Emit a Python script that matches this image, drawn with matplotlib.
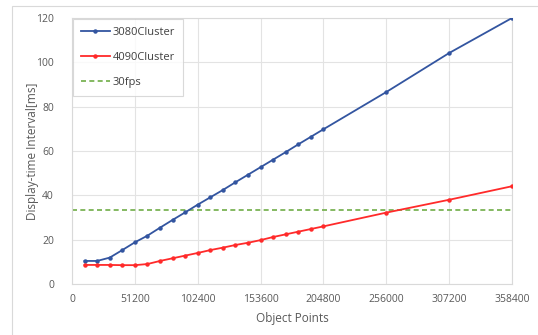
import numpy as np
import matplotlib
matplotlib.use("Agg")
import matplotlib.pyplot as plt
from matplotlib.patches import Rectangle

plt.rcParams['font.family'] = ['Open Sans', 'DejaVu Sans']

points = [10240 * i for i in range(1, 21)] + [256000, 307200, 358400]
cluster3080 = [10.4, 10.4, 11.9, 15.3, 18.8, 21.8, 25.4, 28.9, 32.3, 35.8,
               39.1, 42.4, 45.9, 49.3, 52.7, 56.1, 59.5, 63.0, 66.4, 69.8,
               86.6, 104.2, 120.0]
cluster4090 = [8.6, 8.6, 8.6, 8.5, 8.5, 9.0, 10.4, 11.6, 12.8, 14.0,
               15.3, 16.4, 17.6, 18.6, 19.8, 21.2, 22.4, 23.6, 24.8, 26.0,
               32.2, 38.0, 44.1]
fps30 = 33.3
xticks = [0, 51200, 102400, 153600, 204800, 256000, 307200, 358400]
yticks = [0, 20, 40, 60, 80, 100, 120]

W, H = 538, 335
fig = plt.figure(figsize=(W / 100, H / 100), dpi=100)
ax = fig.add_axes([72 / W, 1 - 284 / H, (512 - 72) / W, (284 - 18) / H])

# outer chart border
fig.patches.append(Rectangle((12 / W, -0.1), 1.2, 1 - 6 / H + 0.1,
                             transform=fig.transFigure, fill=False,
                             edgecolor='#d9d9d9', linewidth=0.8))

ax.plot(points, cluster3080, color='#3355a0', lw=1.3, marker='o', ms=2.2,
        label='3080Cluster', zorder=3)
ax.plot(points, cluster4090, color='#ff2a2a', lw=1.3, marker='o', ms=2.2,
        label='4090Cluster', zorder=3)
ax.axhline(fps30, color='#70ad47', lw=1.2, ls=(0, (3, 2)), label='30fps', zorder=2)

ax.set_xlim(0, 358400)
ax.set_ylim(0, 120)
ax.set_xticks(xticks)
ax.set_yticks(yticks)
ax.set_xticklabels([str(v) for v in xticks])
ax.grid(True, color='#e3e3e3', lw=0.8)
ax.set_axisbelow(True)
for s in ax.spines.values():
    s.set_color('#d9d9d9')
    s.set_linewidth(0.8)
ax.tick_params(length=0, labelsize=7.5, labelcolor='#595959')
ax.tick_params(axis='x', pad=7)
ax.tick_params(axis='y', pad=13)

ax.set_xlabel('Object Points', fontsize=8.5, color='#595959', labelpad=5)
ax.set_ylabel('Display-time Interval[ms]', fontsize=8.5, color='#595959')
ax.yaxis.set_label_coords((39 - 72) / 440, 0.5)

leg = ax.legend(loc='upper left', bbox_to_anchor=(0.0, 1.0), fontsize=8,
                frameon=True, fancybox=False, edgecolor='#d0d0d0',
                handlelength=2.6, handletextpad=0.25, labelspacing=1.25,
                borderpad=0.75, borderaxespad=0.05, labelcolor='#404040')
leg.get_frame().set_linewidth(0.8)

fig.savefig('out.png', dpi=100)
